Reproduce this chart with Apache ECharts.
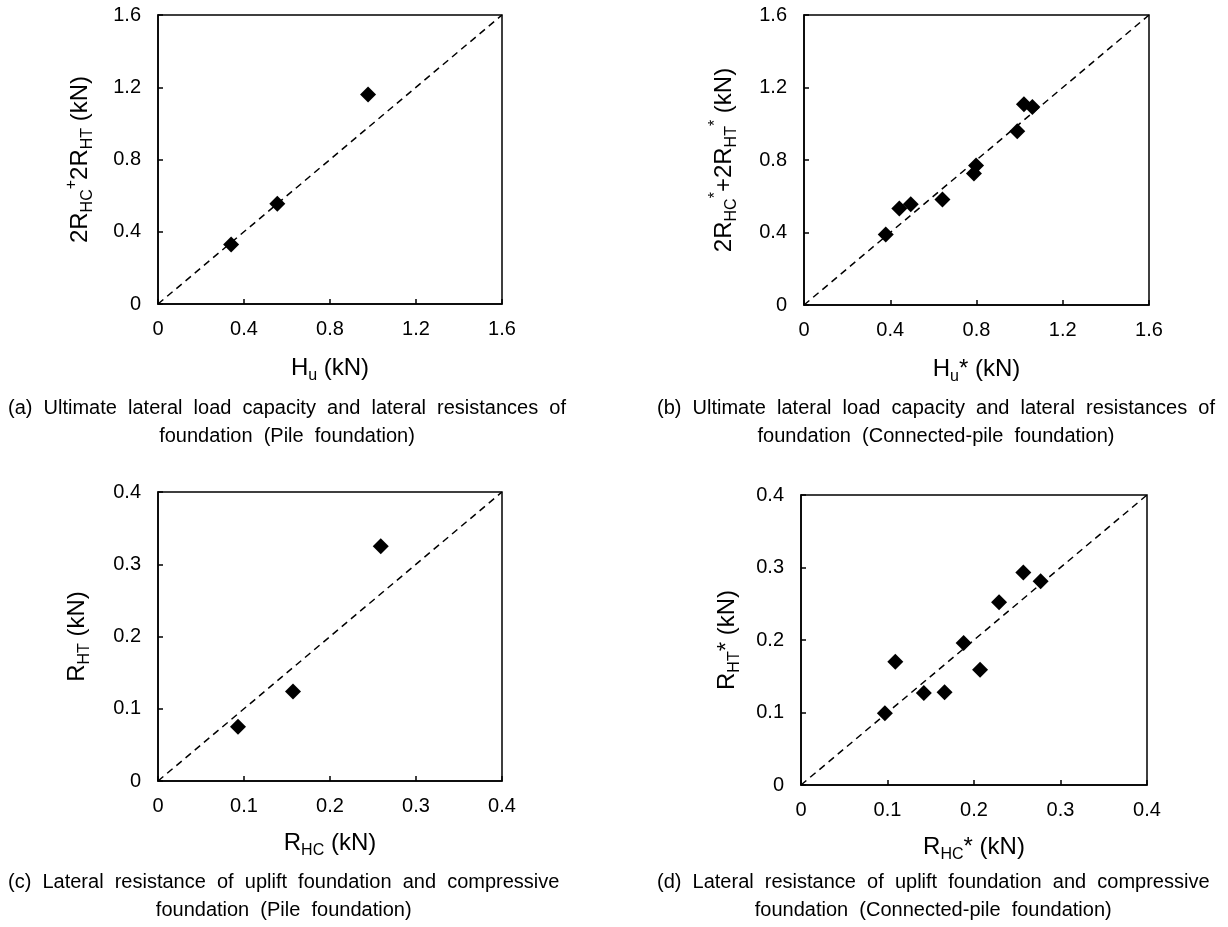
<!DOCTYPE html>
<html>
<head>
<meta charset="utf-8">
<script src="https://cdn.jsdelivr.net/npm/echarts@6/dist/echarts.min.js"></script>
<style>
html, body { margin: 0; padding: 0; background: #fff; }
#chart { width: 1228px; height: 927px; }
</style>
</head>
<body>
<div id="chart"></div>
<script>
// (a) pile foundation: Hu vs 2RHC + 2RHT
var huPile = [0.34, 0.555, 0.977];
var sumRPile = [0.33, 0.555, 1.16];
// (b) connected-pile foundation: Hu* vs 2RHC* + 2RHT*
var huConn = [0.379, 0.442, 0.495, 0.642, 0.788, 0.798, 0.989, 1.020, 1.059];
var sumRConn = [0.389, 0.532, 0.556, 0.582, 0.725, 0.769, 0.958, 1.108, 1.092];
// (c) pile foundation: RHC vs RHT
var rhcPile = [0.093, 0.157, 0.259];
var rhtPile = [0.075, 0.124, 0.325];
// (d) connected-pile foundation: RHC* vs RHT*
var rhcConn = [0.097, 0.109, 0.142, 0.166, 0.188, 0.207, 0.229, 0.257, 0.277];
var rhtConn = [0.099, 0.170, 0.127, 0.128, 0.196, 0.159, 0.252, 0.293, 0.281];

// axis ranges (min, max, step) for the upper and lower rows
var rangeTop = [0, 1.6, 0.4];
var rangeBottom = [0, 0.4, 0.1];

// captions (wide word spacing like the original)
var captions = [
  ['(a)  Ultimate  lateral  load  capacity  and  lateral  resistances  of', 'foundation  (Pile  foundation)'],
  ['(b)  Ultimate  lateral  load  capacity  and  lateral  resistances  of', 'foundation  (Connected-pile  foundation)'],
  ['(c)  Lateral  resistance  of  uplift  foundation  and  compressive', 'foundation  (Pile  foundation)'],
  ['(d)  Lateral  resistance  of  uplift  foundation  and  compressive', 'foundation  (Connected-pile  foundation)']
];
var xNames = [
  '{n|H}{s|u}{n| (kN)}',
  '{n|H}{s|u}{n|* (kN)}',
  '{n|R}{s|HC}{n| (kN)}',
  '{n|R}{s|HC}{n|* (kN)}'
];
var yNames = [
  '{n|2R}{s|HC}{p|+}{n|2R}{s|HT}{n| (kN)}',
  '{n|2R}{s|HC}{p|*}{n|+2R}{s|HT}{p|*}{n| (kN)}',
  '{n|R}{s|HT}{n| (kN)}',
  '{n|R}{s|HT}{n|* (kN)}'
];

var FONT = '"Liberation Sans", Arial, sans-serif';
var CAP_FONT = '20px ' + FONT;

var myChart = echarts.init(document.getElementById('chart'));

var grids = [
  { left: 158, top: 15, width: 344, height: 289 },
  { left: 804, top: 15, width: 345, height: 290 },
  { left: 158, top: 492, width: 344, height: 289 },
  { left: 801, top: 495, width: 346, height: 290 }
];
var yGaps = [62, 64, 65, 58];
var xGaps = [48, 48, 46, 46];

var nameStyle = {
  fontFamily: FONT,
  fontSize: 24,
  color: '#000',
  rich: {
    n: { fontFamily: FONT, fontSize: 24, lineHeight: 32, color: '#000' },
    s: { fontFamily: FONT, fontSize: 16, lineHeight: 16, verticalAlign: 'bottom', color: '#000' },
    p: { fontFamily: FONT, fontSize: 16, lineHeight: 16, verticalAlign: 'top', color: '#000' }
  }
};

function makeAxis(i, range, name, gap, isY) {
  return {
    type: 'value',
    gridIndex: i,
    min: range[0],
    max: range[1],
    interval: range[2],
    name: name,
    nameLocation: 'middle',
    nameGap: gap,
    nameTextStyle: nameStyle,
    axisLine: { show: true, lineStyle: { color: '#000', width: 1.5 } },
    axisTick: { show: true, inside: true, length: 5, lineStyle: { color: '#000', width: 1.5 } },
    axisLabel: { color: '#000', fontFamily: FONT, fontSize: 20, margin: isY ? 17 : 15 },
    splitLine: { show: false }
  };
}

var xAxes = [], yAxes = [], series = [];
var sets = [
  [huPile, sumRPile, rangeTop],
  [huConn, sumRConn, rangeTop],
  [rhcPile, rhtPile, rangeBottom],
  [rhcConn, rhtConn, rangeBottom]
];

sets.forEach(function (s, i) {
  var xs = s[0], ys = s[1], range = s[2];
  xAxes.push(makeAxis(i, range, xNames[i], xGaps[i], false));
  yAxes.push(makeAxis(i, range, yNames[i], yGaps[i], true));
  series.push({
    type: 'line',
    xAxisIndex: i,
    yAxisIndex: i,
    data: [[range[0], range[0]], [range[1], range[1]]],
    symbol: 'none',
    silent: true,
    lineStyle: { color: '#000', width: 1.5, type: [7, 5] },
    z: 2
  });
  var pts = [];
  for (var k = 0; k < xs.length; k++) {
    pts.push([xs[k], ys[k]]);
  }
  series.push({
    type: 'scatter',
    xAxisIndex: i,
    yAxisIndex: i,
    data: pts,
    symbol: 'diamond',
    symbolSize: 16,
    itemStyle: { color: '#000', opacity: 1 },
    z: 3
  });
});

// caption blocks: first line starts at a fixed left edge, second line centred under it
var measure = document.createElement('canvas').getContext('2d');
measure.font = CAP_FONT;
var captionLeft = [8, 657, 8, 657];
var captionMid = [422, 422, 896, 896];
var graphics = captions.map(function (lines, i) {
  var w = measure.measureText(lines[0]).width;
  return {
    type: 'text',
    x: captionLeft[i] + w / 2,
    y: captionMid[i],
    style: {
      text: lines.join('\n'),
      font: CAP_FONT,
      fill: '#000',
      align: 'center',
      verticalAlign: 'middle',
      lineHeight: 28
    }
  };
});

var option = {
  backgroundColor: '#fff',
  animation: false,
  grid: grids.map(function (g) {
    return {
      left: g.left, top: g.top, width: g.width, height: g.height,
      show: true, borderColor: '#000', borderWidth: 1.5
    };
  }),
  xAxis: xAxes,
  yAxis: yAxes,
  series: series,
  graphic: graphics
};

myChart.setOption(option);
</script>
</body>
</html>
